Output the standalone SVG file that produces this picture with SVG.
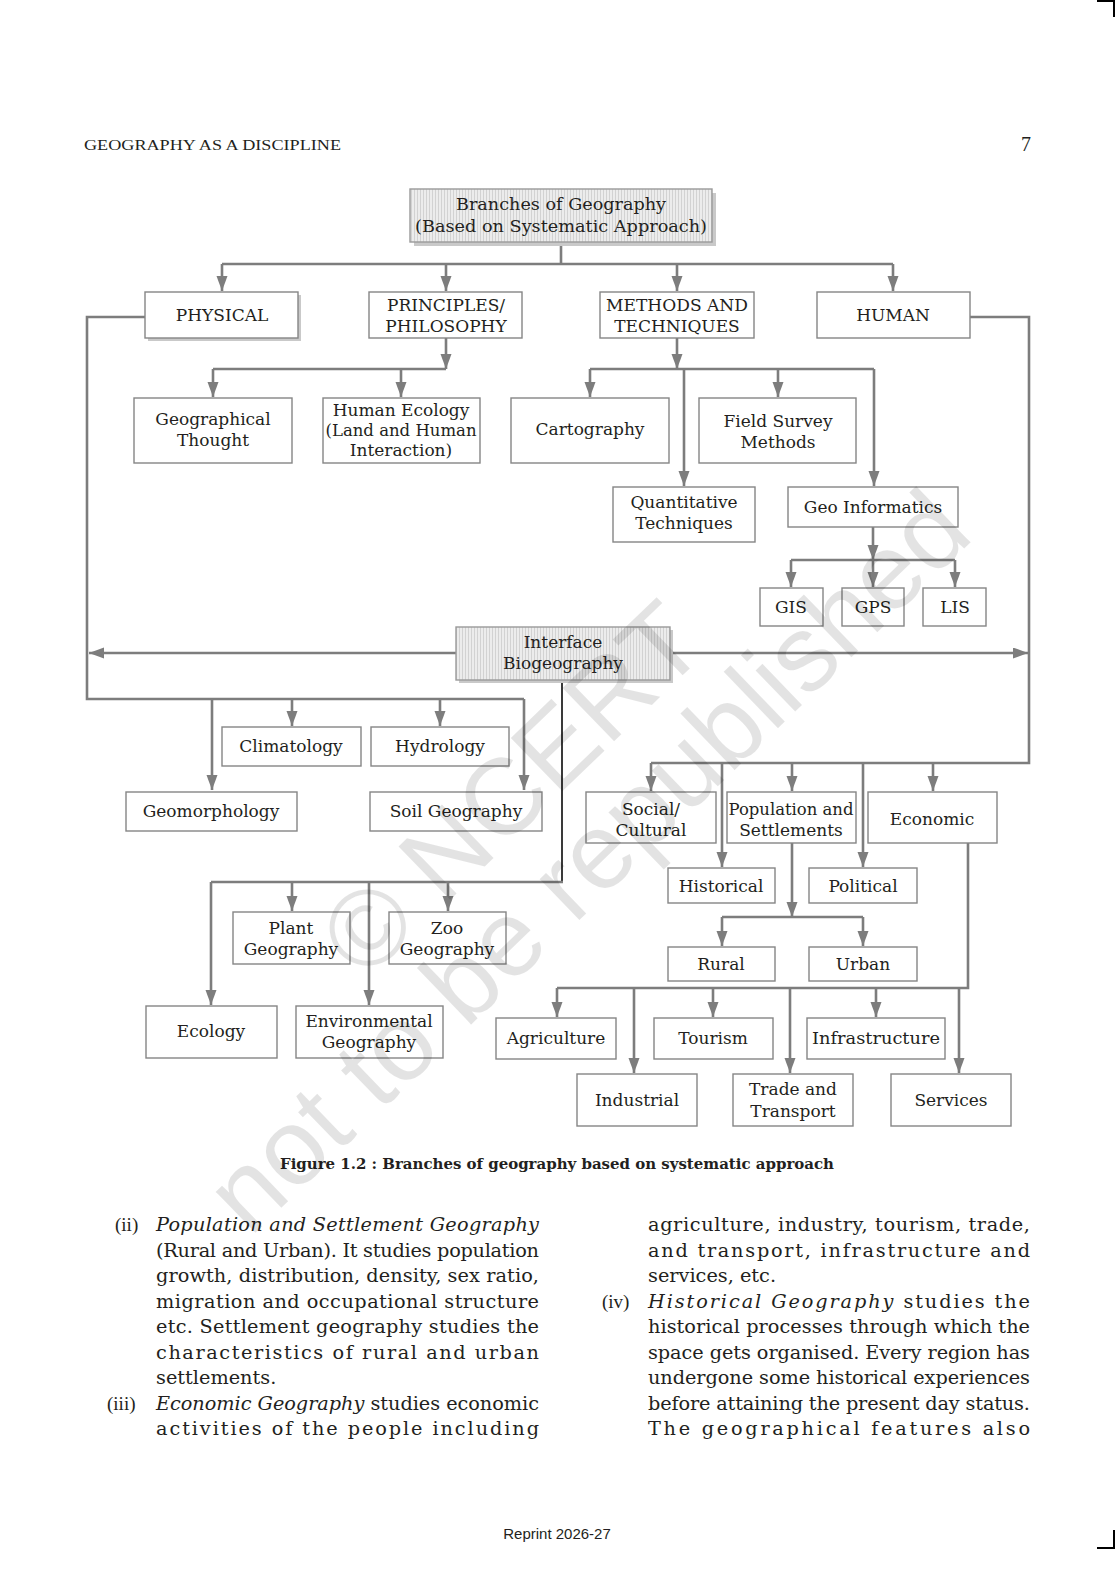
<svg xmlns="http://www.w3.org/2000/svg" width="1116" height="1569" viewBox="0 0 1116 1569">
<style>
.bx{fill:none;stroke:#858585;stroke-width:1.4}
.hb{fill:url(#stripe);stroke:#9a9a9a;stroke-width:1.4}
.sh{fill:#c9c9c9}
.ln{fill:none;stroke:#7d7d7d;stroke-width:2.6}
.ar{marker-end:url(#ah)}
.dk{fill:none;stroke:#3a3a3a;stroke-width:2}
.t{font-family:"DejaVu Serif",serif;font-size:17px;fill:#231f20;text-anchor:middle}
.b{font-family:"DejaVu Serif",serif;font-size:19.3px;fill:#231f20}
.n{font-family:"Liberation Serif",serif;font-size:19px;fill:#231f20}
.i{font-style:italic}
.wm{font-family:"Liberation Sans",sans-serif;font-size:108px;fill:#000;fill-opacity:0.11}
</style>
<defs>
<pattern id="stripe" width="3" height="10" patternUnits="userSpaceOnUse">
<rect width="3" height="10" fill="#ececec"/>
<rect width="1" height="10" fill="#d2d2d2"/>
</pattern>
<marker id="ah" markerUnits="userSpaceOnUse" markerWidth="16" markerHeight="12" refX="15" refY="5.5" orient="auto">
<path d="M0,0 L15,5.5 L0,11 Z" fill="#7d7d7d"/>
</marker>
</defs>
<rect width="1116" height="1569" fill="#fff"/>

<!-- page furniture -->
<text x="84" y="150" font-family="Liberation Serif,serif" font-size="15.5" fill="#231f20" textLength="257" lengthAdjust="spacingAndGlyphs">GEOGRAPHY AS A DISCIPLINE</text>
<text x="1026" y="151" font-family="Liberation Serif,serif" font-size="20" fill="#231f20" text-anchor="middle">7</text>
<path d="M1097,1 H1114 V17" fill="none" stroke="#000" stroke-width="2"/>
<path d="M1114,1530 V1548 H1097" fill="none" stroke="#000" stroke-width="2"/>

<!-- connectors -->
<g id="connectors">
<path class="ln" d="M561,242 V264 M222,264 H893"/>
<path class="ln ar" d="M222,264 V291"/>
<path class="ln ar" d="M446,264 V291"/>
<path class="ln ar" d="M677,264 V291"/>
<path class="ln ar" d="M893,264 V291"/>

<path class="ln ar" d="M446,338 V369"/>
<path class="ln" d="M213,369 H446"/>
<path class="ln ar" d="M213,369 V397"/>
<path class="ln ar" d="M401,369 V397"/>

<path class="ln ar" d="M677,338 V369"/>
<path class="ln" d="M590,369 H874"/>
<path class="ln ar" d="M590,369 V397"/>
<path class="ln ar" d="M778,369 V397"/>
<path class="ln ar" d="M684,369 V486"/>
<path class="ln ar" d="M874,369 V486"/>

<path class="ln ar" d="M873,527 V560"/>
<path class="ln" d="M791,560 H955"/>
<path class="ln ar" d="M791,560 V587"/>
<path class="ln ar" d="M873,560 V587"/>
<path class="ln ar" d="M955,560 V587"/>

<path class="ln ar" d="M456,653 H89"/>
<path class="ln ar" d="M671,653 H1028"/>

<path class="ln" d="M145,317 H87 V699 H524"/>
<path class="ln ar" d="M524,699 V790"/>
<path class="ln ar" d="M212,699 V790"/>
<path class="ln ar" d="M292,699 V726"/>
<path class="ln ar" d="M440,699 V726"/>

<path class="ln" d="M970,317 H1029 V763 H651"/>
<path class="ln ar" d="M651,763 V791"/>
<path class="ln ar" d="M722,763 V867"/>
<path class="ln ar" d="M792,763 V791"/>
<path class="ln ar" d="M863,763 V867"/>
<path class="ln ar" d="M933,763 V791"/>

<path class="dk" d="M562,681 V882"/>
<path class="ln" d="M563,882 H211"/>
<path class="ln ar" d="M211,882 V1005"/>
<path class="ln ar" d="M292,882 V911"/>
<path class="ln ar" d="M369,882 V1005"/>
<path class="ln ar" d="M448,882 V911"/>

<path class="ln ar" d="M792,843 V917"/>
<path class="ln" d="M722,917 H863"/>
<path class="ln ar" d="M722,917 V946"/>
<path class="ln ar" d="M863,917 V946"/>

<path class="ln" d="M968,843 V988 H557"/>
<path class="ln ar" d="M557,988 V1017"/>
<path class="ln ar" d="M634,988 V1073"/>
<path class="ln ar" d="M713,988 V1017"/>
<path class="ln ar" d="M790,988 V1073"/>
<path class="ln ar" d="M876,988 V1017"/>
<path class="ln ar" d="M959,988 V1073"/>
</g>

<!-- nodes -->
<g id="n-title"><rect class="sh" x="414" y="193" width="302" height="53"/><rect class="hb" x="410" y="189" width="302" height="53"/>
<text class="t" x="561" y="210" textLength="210" lengthAdjust="spacingAndGlyphs">Branches of Geography</text><text class="t" x="561" y="232" textLength="292" lengthAdjust="spacingAndGlyphs">(Based on Systematic Approach)</text></g>

<g id="n-physical"><rect class="sh" x="148" y="295" width="153" height="46"/><rect x="145" y="292" width="153" height="46" fill="#fff" stroke="#858585" stroke-width="1.4"/>
<text class="t" x="222" y="321">PHYSICAL</text></g>
<g id="n-principles"><rect class="bx" x="369" y="292" width="153" height="46"/>
<text class="t" x="446" y="311">PRINCIPLES/</text><text class="t" x="446" y="332">PHILOSOPHY</text></g>
<g id="n-methods"><rect class="bx" x="600" y="292" width="154" height="46"/>
<text class="t" x="677" y="311" textLength="142" lengthAdjust="spacingAndGlyphs">METHODS AND</text><text class="t" x="677" y="332">TECHNIQUES</text></g>
<g id="n-human"><rect class="bx" x="817" y="292" width="153" height="46"/>
<text class="t" x="893" y="321">HUMAN</text></g>

<g id="n-geothought"><rect class="bx" x="134" y="398" width="158" height="65"/>
<text class="t" x="213" y="425">Geographical</text><text class="t" x="213" y="446">Thought</text></g>
<g id="n-humanecology"><rect class="bx" x="323" y="398" width="157" height="65"/>
<text class="t" x="401" y="416">Human Ecology</text><text class="t" x="401" y="436" textLength="151" lengthAdjust="spacingAndGlyphs">(Land and Human</text><text class="t" x="401" y="456">Interaction)</text></g>
<g id="n-cartography"><rect class="bx" x="511" y="398" width="158" height="65"/>
<text class="t" x="590" y="435">Cartography</text></g>
<g id="n-fieldsurvey"><rect class="bx" x="699" y="398" width="157" height="65"/>
<text class="t" x="778" y="427">Field Survey</text><text class="t" x="778" y="448">Methods</text></g>
<g id="n-quant"><rect class="bx" x="613" y="487" width="142" height="55"/>
<text class="t" x="684" y="508">Quantitative</text><text class="t" x="684" y="529">Techniques</text></g>
<g id="n-geoinf"><rect class="bx" x="788" y="487" width="170" height="40"/>
<text class="t" x="873" y="513">Geo Informatics</text></g>
<g id="n-gis"><rect class="bx" x="760" y="588" width="63" height="38"/><text class="t" x="791" y="613">GIS</text></g>
<g id="n-gps"><rect class="bx" x="842" y="588" width="62" height="38"/><text class="t" x="873" y="613">GPS</text></g>
<g id="n-lis"><rect class="bx" x="923" y="588" width="63" height="38"/><text class="t" x="955" y="613">LIS</text></g>

<g id="n-interface"><rect class="sh" x="459" y="630" width="214" height="53"/><rect class="hb" x="456" y="627" width="214" height="53"/>
<text class="t" x="563" y="648">Interface</text><text class="t" x="563" y="669">Biogeography</text></g>

<g id="n-climatology"><rect class="bx" x="222" y="727" width="139" height="39"/><text class="t" x="291" y="752">Climatology</text></g>
<g id="n-hydrology"><rect class="bx" x="371" y="727" width="138" height="39"/><text class="t" x="440" y="752">Hydrology</text></g>
<g id="n-geomorphology"><rect class="bx" x="126" y="792" width="171" height="39"/><text class="t" x="211" y="817">Geomorphology</text></g>
<g id="n-soil"><rect class="bx" x="370" y="792" width="172" height="39"/><text class="t" x="456" y="817">Soil Geography</text></g>

<g id="n-plant"><rect class="bx" x="233" y="912" width="117" height="52"/>
<text class="t" x="291" y="934">Plant</text><text class="t" x="291" y="955">Geography</text></g>
<g id="n-zoo"><rect class="bx" x="389" y="912" width="117" height="52"/>
<text class="t" x="447" y="934">Zoo</text><text class="t" x="447" y="955">Geography</text></g>
<g id="n-ecology"><rect class="bx" x="146" y="1006" width="131" height="52"/><text class="t" x="211" y="1037">Ecology</text></g>
<g id="n-environmental"><rect class="bx" x="296" y="1006" width="147" height="52"/>
<text class="t" x="369" y="1027">Environmental</text><text class="t" x="369" y="1048">Geography</text></g>

<g id="n-social"><rect class="bx" x="586" y="792" width="130" height="51"/>
<text class="t" x="651" y="815">Social/</text><text class="t" x="651" y="836">Cultural</text></g>
<g id="n-population"><rect class="bx" x="727" y="792" width="129" height="51"/>
<text class="t" x="791" y="815" textLength="125" lengthAdjust="spacingAndGlyphs">Population and</text><text class="t" x="791" y="836">Settlements</text></g>
<g id="n-economic"><rect class="bx" x="868" y="792" width="129" height="51"/><text class="t" x="932" y="825">Economic</text></g>
<g id="n-historical"><rect class="bx" x="668" y="868" width="107" height="35"/><text class="t" x="721" y="892">Historical</text></g>
<g id="n-political"><rect class="bx" x="809" y="868" width="108" height="35"/><text class="t" x="863" y="892">Political</text></g>
<g id="n-rural"><rect class="bx" x="668" y="947" width="107" height="34"/><text class="t" x="721" y="970">Rural</text></g>
<g id="n-urban"><rect class="bx" x="809" y="947" width="108" height="34"/><text class="t" x="863" y="970">Urban</text></g>

<g id="n-agriculture"><rect class="bx" x="496" y="1018" width="120" height="41"/><text class="t" x="556" y="1044">Agriculture</text></g>
<g id="n-tourism"><rect class="bx" x="654" y="1018" width="119" height="41"/><text class="t" x="713" y="1044">Tourism</text></g>
<g id="n-infrastructure"><rect class="bx" x="807" y="1018" width="138" height="41"/><text class="t" x="876" y="1044" textLength="128" lengthAdjust="spacingAndGlyphs">Infrastructure</text></g>
<g id="n-industrial"><rect class="bx" x="577" y="1074" width="120" height="52"/><text class="t" x="637" y="1106">Industrial</text></g>
<g id="n-trade"><rect class="bx" x="733" y="1074" width="120" height="52"/>
<text class="t" x="793" y="1095">Trade and</text><text class="t" x="793" y="1117">Transport</text></g>
<g id="n-services"><rect class="bx" x="891" y="1074" width="120" height="52"/><text class="t" x="951" y="1106">Services</text></g>

<!-- caption -->
<text x="280" y="1169" font-family="DejaVu Serif Condensed,DejaVu Serif,serif" font-size="15.5" font-weight="bold" fill="#231f20" textLength="554" lengthAdjust="spacingAndGlyphs">Figure 1.2 : Branches of geography based on systematic approach</text>

<!-- body text -->
<text class="n" x="115" y="1231">(ii)</text>
<text class="b" x="156" y="1231" textLength="383" lengthAdjust="spacing"><tspan class="i">Population and Settlement Geography</tspan></text>
<text class="b" x="156" y="1256.5" textLength="383" lengthAdjust="spacing">(Rural and Urban). It studies population</text>
<text class="b" x="156" y="1282" textLength="383" lengthAdjust="spacing">growth,  distribution, density, sex ratio,</text>
<text class="b" x="156" y="1307.5" textLength="383" lengthAdjust="spacing">migration and occupational structure</text>
<text class="b" x="156" y="1333" textLength="383" lengthAdjust="spacing">etc. Settlement geography studies the</text>
<text class="b" x="156" y="1358.5" textLength="383" lengthAdjust="spacing">characteristics of rural and urban</text>
<text class="b" x="156" y="1384">settlements.</text>
<text class="n" x="107" y="1409.5">(iii)</text>
<text class="b" x="156" y="1409.5" textLength="383" lengthAdjust="spacing"><tspan class="i">Economic Geography</tspan> studies economic</text>
<text class="b" x="156" y="1435" textLength="383" lengthAdjust="spacing">activities of the people including</text>

<text class="b" x="648" y="1231" textLength="382" lengthAdjust="spacing">agriculture, industry, tourism, trade,</text>
<text class="b" x="648" y="1256.5" textLength="382" lengthAdjust="spacing">and transport, infrastructure and</text>
<text class="b" x="648" y="1282">services, etc.</text>
<text class="n" x="602" y="1307.5">(iv)</text>
<text class="b" x="648" y="1307.5" textLength="382" lengthAdjust="spacing"><tspan class="i">Historical Geography</tspan> studies the</text>
<text class="b" x="648" y="1333" textLength="382" lengthAdjust="spacing">historical processes through which the</text>
<text class="b" x="648" y="1358.5" textLength="382" lengthAdjust="spacing">space gets organised. Every region has</text>
<text class="b" x="648" y="1384" textLength="382" lengthAdjust="spacing">undergone some historical experiences</text>
<text class="b" x="648" y="1409.5" textLength="382" lengthAdjust="spacing">before attaining the present day status.</text>
<text class="b" x="648" y="1435" textLength="382" lengthAdjust="spacing">The geographical features also</text>

<text x="557" y="1539" font-family="Liberation Sans,sans-serif" font-size="15" fill="#231f20" text-anchor="middle">Reprint 2026-27</text>

<!-- watermark -->
<g class="wm">
<text x="365" y="982" transform="rotate(-44 365 982)">© NCERT</text>
<text x="250" y="1238" transform="rotate(-44 250 1238)">not to be republished</text>
</g>
</svg>
